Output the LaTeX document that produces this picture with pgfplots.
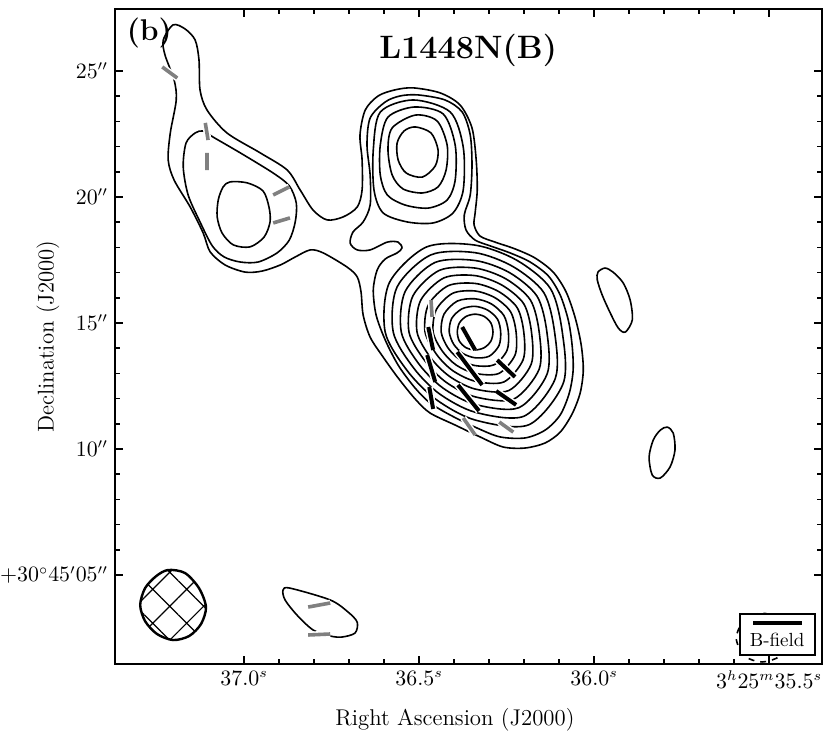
\documentclass[border=0pt]{standalone}
\usepackage{pgfplots}
\pgfplotsset{compat=1.18}
\usetikzlibrary{patterns.meta}

% B-field segments (RA seconds, Dec arcsec above +30d45m00s)
\pgfplotstableread{
x y
36.474 14.84
36.460 13.93
nan nan
36.477 13.73
36.454 12.66
nan nan
36.471 12.46
36.460 11.59
nan nan
36.377 14.84
36.340 13.93
nan nan
36.391 13.85
36.320 12.54
nan nan
36.277 13.53
36.226 12.86
nan nan
36.389 12.54
36.329 11.51
nan nan
36.280 12.30
36.223 11.75
}\bblack
\pgfplotstableread{
x y
37.234 25.16
37.191 24.72
nan nan
37.111 22.94
37.103 22.26
nan nan
37.106 21.75
37.106 21.07
nan nan
36.917 20.08
36.871 20.40
nan nan
36.917 18.97
36.869 19.17
nan nan
36.466 15.91
36.463 15.24
nan nan
36.374 11.23
36.340 10.56
nan nan
36.271 11.07
36.231 10.67
nan nan
36.817 3.73
36.754 3.89
nan nan
36.817 2.62
36.754 2.66
}\bgray

\begin{document}
\begin{tikzpicture}
\begin{axis}[
    scale only axis, width=353.5pt, height=327.5pt,
    x dir=reverse,
    xmin=35.349, xmax=37.369, ymin=1.47, ymax=27.46,
    xtick={35.5,36,36.5,37},
    xticklabels={{$3^h25^m35.5^s$},{$36.0^s$},{$36.5^s$},{$37.0^s$}},
    ytick={5,10,15,20,25},
    yticklabels={{$+30^\circ45'05''$},{$10''$},{$15''$},{$20''$},{$25''$}},
    minor x tick num=4, minor y tick num=4,
    tick align=inside, tick pos=both,
    major tick length=4pt, minor tick length=2.4pt,
    axis line style={line width=0.9pt},
    every tick/.style={black, line width=0.8pt},
    tick label style={font=\fontsize{10.7}{12}\selectfont},
    xlabel={Right Ascension (J2000)},
    ylabel={Declination (J2000)},
    every axis x label/.style={at={(axis description cs:0.5,0)}, anchor=center, yshift=-28pt, xshift=-6.75pt, font=\fontsize{11.4}{13}\selectfont},
    every axis y label/.style={at={(axis description cs:0,0.5)}, anchor=center, xshift=-33.5pt, rotate=90, font=\fontsize{11.4}{13}\selectfont},
    unbounded coords=jump,
    cont/.style={black, line width=0.8pt, smooth cycle},
]
% outer contour (whole structure)
\addplot[cont] coordinates {(37.203,26.83) (37.169,26.67) (37.140,26.23) (37.129,25.44) (37.126,24.25) (37.106,23.45) (37.049,22.54) (36.954,21.75) (36.877,21.07) (36.840,20.28) (36.803,19.48) (36.763,19.09) (36.717,19.21) (36.677,19.60) (36.663,20.28) (36.663,21.47) (36.669,22.46) (36.654,23.45) (36.617,24.01) (36.569,24.25) (36.517,24.33) (36.440,24.13) (36.383,23.65) (36.349,22.74) (36.337,21.47) (36.334,20.28) (36.340,19.37) (36.343,18.89) (36.326,18.45) (36.283,18.21) (36.226,17.94) (36.169,17.58) (36.117,17.02) (36.080,16.23) (36.054,15.20) (36.037,14.13) (36.031,13.13) (36.040,12.22) (36.063,11.39) (36.097,10.67) (36.140,10.24) (36.197,10.04) (36.260,10.08) (36.326,10.48) (36.397,10.95) (36.469,11.43) (36.511,11.98) (36.560,12.82) (36.603,13.65) (36.640,14.44) (36.660,15.32) (36.666,16.23) (36.677,16.83) (36.706,17.22) (36.774,17.78) (36.811,17.90) (36.854,17.62) (36.897,17.30) (36.949,17.06) (36.997,17.02) (37.054,17.30) (37.097,17.82) (37.117,18.57) (37.154,19.60) (37.200,20.67) (37.217,21.47) (37.211,22.54) (37.194,23.85) (37.200,24.64) (37.226,25.63) (37.231,26.23)};
% second contour: north core + main core
\addplot[cont] coordinates {(36.503,24.05) (36.426,23.85) (36.377,23.37) (36.354,22.46) (36.349,21.27) (36.354,20.08) (36.371,19.29) (36.366,18.69) (36.340,18.29) (36.297,18.06) (36.240,17.78) (36.183,17.42) (36.131,16.87) (36.097,16.11) (36.074,15.12) (36.063,14.13) (36.060,13.13) (36.071,12.22) (36.097,11.35) (36.140,10.75) (36.197,10.44) (36.269,10.48) (36.334,10.83) (36.406,11.31) (36.469,11.83) (36.514,12.46) (36.560,13.33) (36.597,14.33) (36.623,15.32) (36.631,16.31) (36.620,17.10) (36.597,17.54) (36.563,17.78) (36.549,17.98) (36.560,18.21) (36.591,18.21) (36.640,17.90) (36.677,17.90) (36.697,18.17) (36.689,18.61) (36.660,19.01) (36.640,19.68) (36.640,20.87) (36.649,22.06) (36.640,23.13) (36.597,23.77) (36.554,24.01)};
% second contour: NW clump
\addplot[cont] coordinates {(37.140,22.54) (37.117,22.62) (37.089,22.38) (37.011,21.75) (36.917,20.95) (36.871,20.44) (36.851,19.76) (36.854,19.01) (36.871,18.29) (36.906,17.78) (36.960,17.42) (37.011,17.42) (37.057,17.62) (37.091,18.06) (37.126,19.01) (37.160,20.08) (37.174,21.19) (37.166,22.14)};
% NW inner
\addplot[cont] coordinates {(37.040,20.60) (36.991,20.56) (36.946,20.24) (36.929,19.60) (36.926,19.01) (36.943,18.41) (36.983,18.02) (37.031,18.10) (37.063,18.57) (37.077,19.21) (37.074,19.88) (37.060,20.40)};
% north core
\addplot[cont] coordinates {(36.517,23.85) (36.411,23.37) (36.374,21.98) (36.374,20.28) (36.403,19.37) (36.460,18.97) (36.534,19.01) (36.603,19.37) (36.629,20.28) (36.631,21.87) (36.611,23.37)};
\addplot[cont] coordinates {(36.514,23.57) (36.431,23.29) (36.397,22.06) (36.397,20.67) (36.420,19.88) (36.474,19.56) (36.540,19.68) (36.591,20.08) (36.611,20.87) (36.611,22.06) (36.589,23.17)};
\addplot[cont] coordinates {(36.511,23.25) (36.449,23.02) (36.420,22.06) (36.423,21.07) (36.446,20.40) (36.491,20.16) (36.546,20.32) (36.577,20.87) (36.589,21.87) (36.577,22.74)};
\addplot[cont] coordinates {(36.511,22.78) (36.466,22.54) (36.446,21.87) (36.454,21.23) (36.491,20.79) (36.537,20.95) (36.560,21.47) (36.563,22.14) (36.543,22.62)};
% main core
\addplot[cont] coordinates {(36.289,14.64) (36.295,14.28) (36.314,14.02) (36.340,13.93) (36.366,14.02) (36.385,14.28) (36.391,14.64) (36.385,15.00) (36.366,15.26) (36.340,15.35) (36.314,15.26) (36.295,15.00)};
\addplot[cont] coordinates {(36.267,14.64) (36.272,14.10) (36.300,13.68) (36.340,13.62) (36.375,13.79) (36.401,14.15) (36.414,14.64) (36.407,15.18) (36.378,15.56) (36.340,15.66) (36.304,15.51) (36.276,15.15)};
\addplot[cont] coordinates {(36.245,14.64) (36.249,13.91) (36.286,13.34) (36.340,13.31) (36.385,13.56) (36.418,14.02) (36.437,14.64) (36.429,15.35) (36.391,15.87) (36.340,15.96) (36.294,15.76) (36.258,15.30)};
\addplot[cont] coordinates {(36.223,14.64) (36.226,13.73) (36.272,13.00) (36.340,13.00) (36.394,13.33) (36.434,13.89) (36.460,14.64) (36.451,15.53) (36.404,16.18) (36.340,16.27) (36.283,16.00) (36.239,15.45)};
\addplot[cont] coordinates {(36.201,14.64) (36.203,13.54) (36.258,12.66) (36.340,12.69) (36.404,13.11) (36.450,13.75) (36.483,14.64) (36.474,15.71) (36.417,16.48) (36.340,16.57) (36.273,16.25) (36.220,15.61)};
\addplot[cont] coordinates {(36.179,14.64) (36.180,13.36) (36.244,12.32) (36.340,12.38) (36.413,12.88) (36.467,13.62) (36.506,14.64) (36.496,15.89) (36.429,16.79) (36.340,16.88) (36.263,16.50) (36.201,15.76)};
\addplot[cont] coordinates {(36.157,14.64) (36.157,13.17) (36.230,11.98) (36.340,12.07) (36.423,12.65) (36.483,13.49) (36.529,14.64) (36.518,16.07) (36.442,17.09) (36.340,17.18) (36.252,16.75) (36.182,15.91)};
\addplot[cont] coordinates {(36.135,14.64) (36.134,12.99) (36.215,11.64) (36.340,11.77) (36.432,12.42) (36.500,13.36) (36.551,14.64) (36.540,16.25) (36.455,17.40) (36.340,17.48) (36.242,17.00) (36.163,16.06)};
\addplot[cont] coordinates {(36.113,14.64) (36.111,12.80) (36.201,11.30) (36.340,11.46) (36.442,12.19) (36.516,13.22) (36.574,14.64) (36.563,16.43) (36.467,17.70) (36.340,17.79) (36.232,17.24) (36.144,16.21)};
\addplot[cont] coordinates {(36.091,14.64) (36.088,12.62) (36.187,10.96) (36.340,11.15) (36.451,11.96) (36.533,13.09) (36.597,14.64) (36.585,16.60) (36.480,18.01) (36.340,18.09) (36.221,17.49) (36.125,16.37)};
% small clumps
\addplot[cont] coordinates {(36.889,4.40) (36.869,4.48) (36.754,4.01) (36.703,3.53) (36.677,3.13) (36.683,2.70) (36.720,2.54) (36.754,2.58) (36.803,2.82) (36.849,3.41) (36.883,4.01)};
\addplot[cont] coordinates {(35.989,17.02) (35.969,17.18) (35.946,17.02) (35.917,16.59) (35.897,15.91) (35.891,15.12) (35.911,14.64) (35.931,14.80) (35.954,15.40) (35.977,16.11) (35.991,16.71)};
\addplot[cont] coordinates {(35.791,10.87) (35.774,10.63) (35.769,9.96) (35.783,9.29) (35.811,8.85) (35.834,8.97) (35.843,9.68) (35.831,10.36) (35.811,10.75)};
\addplot[cont, dashed] coordinates {(35.446,2.50) (35.469,3.21) (35.520,3.49) (35.571,3.21) (35.594,2.50) (35.571,1.79) (35.520,1.55) (35.469,1.79)};
% B-field segments
\addplot[white, line width=3.4pt] table {\bgray};
\addplot[white, line width=3.6pt] table {\bblack};
\addplot[gray, line width=1.8pt] table {\bgray};
\addplot[black, line width=2pt] table {\bblack};
% beam
\addplot[black, line width=1.2pt, smooth cycle, pattern={Hatch[angle=45,distance=12pt,line width=0.6pt]}] coordinates {(37.109,3.73) (37.123,3.06) (37.157,2.58) (37.203,2.42) (37.249,2.66) (37.283,3.17) (37.297,3.81) (37.283,4.48) (37.251,4.96) (37.217,5.20) (37.169,5.08) (37.129,4.48)};
% legend
\draw[fill=white, line width=0.6pt] (axis cs:35.583,3.45) rectangle (axis cs:35.369,1.83);
\draw[black, line width=1.7pt] (axis cs:35.546,3.10) -- (axis cs:35.406,3.10);
\node[font=\fontsize{9.5}{11}\selectfont] at (axis cs:35.477,2.42) {B-field};
% titles
\node[font=\fontsize{16.2}{19}\selectfont\bfseries] at (axis cs:36.360,25.83) {L1448N(B)};
\node[font=\fontsize{15}{18}\selectfont\bfseries] at (axis cs:37.271,26.51) {(b)};
\end{axis}
\pgfresetboundingbox
\path (-57.5pt,-39pt) rectangle (358pt,332pt);
\end{tikzpicture}
\end{document}
